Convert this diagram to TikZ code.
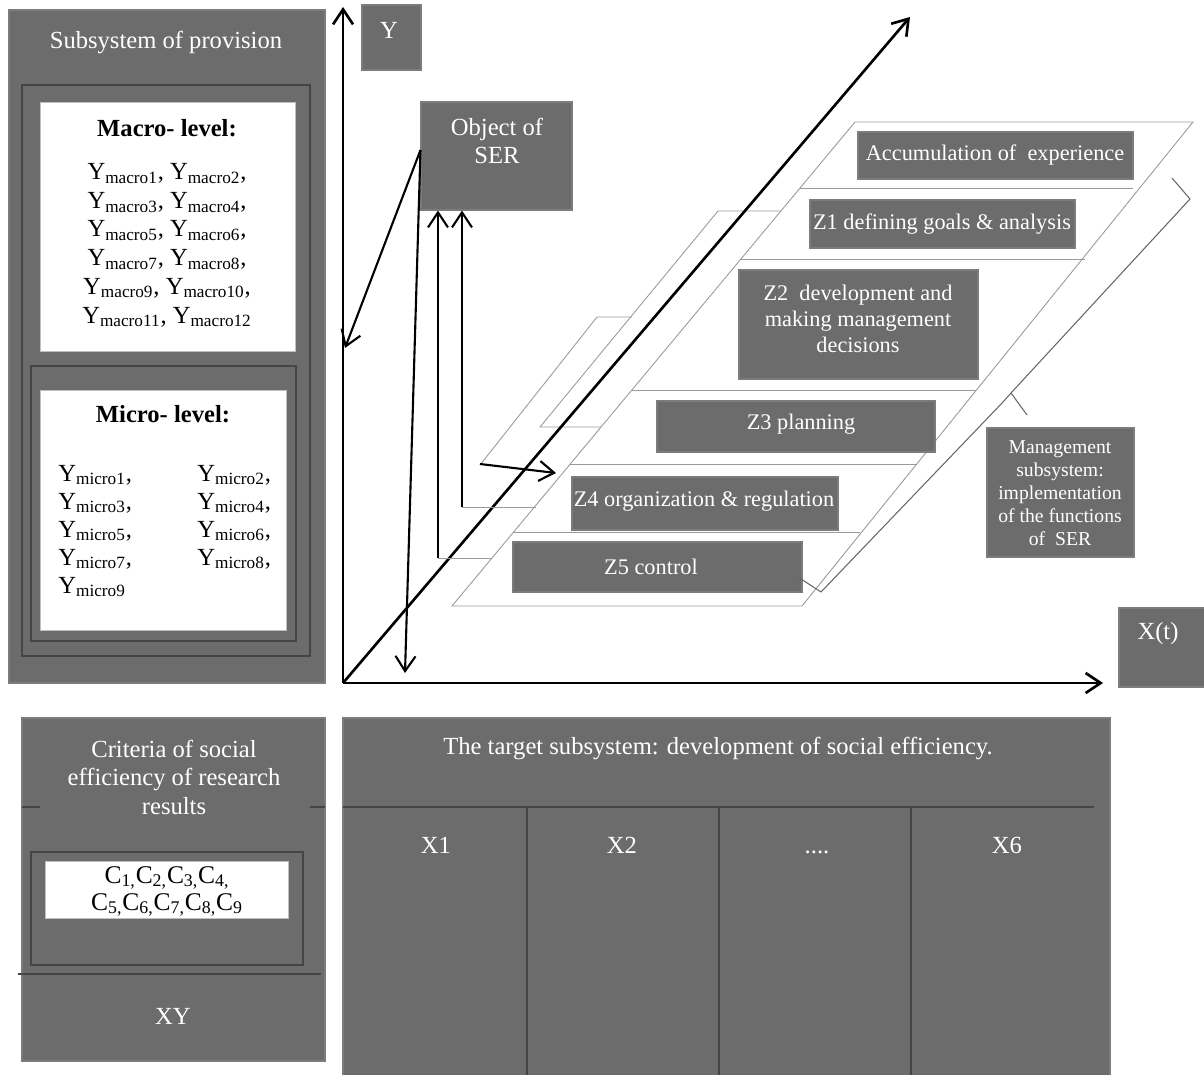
\documentclass[tikz,border=0pt]{standalone}
\usepackage{fontspec}
\setmainfont{Liberation Serif}
\usetikzlibrary{arrows.meta}
\definecolor{boxgray}{HTML}{6C6C6C}
\definecolor{rimgray}{HTML}{7C7C7C}
\definecolor{framegray}{HTML}{454545}
\definecolor{planegray}{HTML}{9A9A9A}
\definecolor{bracegray}{HTML}{666666}

\tikzset{
  greybox/.style={fill=boxgray, draw=rimgray, line width=0.6pt},
  whitebox/.style={fill=white, draw=black!25, line width=0.4pt},
  frame/.style={draw=framegray, line width=0.6pt},
  pline/.style={draw=planegray, line width=0.5pt},
  brace/.style={draw=bracegray, line width=0.6pt, line join=round},
  axis/.style={draw=black, line width=1.5pt, -{Straight Barb[length=3mm,width=4mm]}},
  arr/.style={draw=black, line width=1.2pt, -{Straight Barb[length=3mm,width=4mm]}},
  hdr/.style={text=white, inner sep=0pt, align=center, font=\fontsize{14}{16.2}\selectfont},
  ztxt/.style={hdr, font=\fontsize{12.7}{14.8}\selectfont},
  mtxt/.style={hdr, font=\fontsize{11.2}{13}\selectfont},
  lvl/.style={inner sep=0pt, font=\bfseries\fontsize{14}{16}\selectfont},
  ylist/.style={inner sep=0pt, font=\fontsize{14}{16}\selectfont},
  clist/.style={inner sep=0pt, font=\fontsize{14.5}{16}\selectfont},
}

\newcommand{\Yma}[1]{Y\textsubscript{macro#1}}
\newcommand{\Ymi}[1]{Y\textsubscript{micro#1}}
\newcommand{\Cc}[1]{C\textsubscript{#1}}
\newcommand{\fourdots}{....}

\begin{document}
\begin{tikzpicture}[x=0.02cm, y=-0.02cm]
\useasboundingbox (0,0) rectangle (1204,1075);

% subsystem of provision
\draw[greybox] (9,10) rectangle (325,683);
\node[hdr] (prov) at (166,42) {Subsystem of provision};
\draw[frame] (22,85) rectangle (310,656);
\draw[whitebox] (40,102) rectangle (295,351);
\node[lvl] (macro) at (167,128) {Macro- level:};
\foreach[count=\i] \a/\b in {1/2,3/4,5/6,7/8,9/10}
  \node[ylist] (mac\i) at (167,145+28.6*\i) {\Yma{\a}, \Yma{\b},};
\node[ylist] (mac6) at (167,317) {\Yma{11}, \Yma{12}};
\draw[frame] (31,366) rectangle (296,641);
\draw[whitebox] (40,390) rectangle (286,630);
\node[lvl] (micro) at (163,414) {Micro- level:};
\foreach[count=\i] \m in {1,3,5,7,9}
  \node[ylist, anchor=west] (mil\i) at (58,447+28*\i) {\Ymi{\m}\ifnum\m<9 ,\fi};
\foreach[count=\i] \m in {2,4,6,8}
  \node[ylist, anchor=west] (mir\i) at (197,447+28*\i) {\Ymi{\m},};

% criteria
\draw[greybox] (22,718) rectangle (325,1061);
\node[hdr] (crit) at (174,777) {Criteria of social\\efficiency of research\\results};
\draw[frame] (22,807) -- (40,807) (310,807) -- (325,807);
\draw[frame] (31,852) rectangle (303,965);
\draw[whitebox] (45,861) rectangle (288,918);
\node[clist] (c1) at (167,878) {\Cc{1,}\Cc{2,}\Cc{3,}\Cc{4,}};
\node[clist] (c2) at (167,905) {\Cc{5,}\Cc{6,}\Cc{7,}\Cc{8,}\Cc{9}};
\draw[frame] (18,974) -- (321,974);
\node[hdr] (xy) at (173,1016) {XY};

% target subsystem
\draw[greybox] (343,718) rectangle (1110,1077);
\node[hdr] (target) at (718,748) {The target subsystem: development of social efficiency.};
\draw[frame] (343,807) -- (1094,807);
\foreach \xx in {527,719,911} \draw[frame] (\xx,807) -- (\xx,1077);
\foreach[count=\i] \lbl/\xx in {X1/436,X2/622,\fourdots/817,X6/1007}
  \node[hdr, anchor=base] (x\i) at (\xx,853) {\lbl};

% planes
\draw[pline] (632,317) -- (597,317) -- (480,465);
\draw[pline] (781,211) -- (718,211) -- (540,427) -- (608,427);
\draw[pline, fill=white] (452,606) -- (802,606) -- (1193,122) -- (855,122) -- cycle;
\foreach \yy/\xl/\xr in {188/800/1133,259/741/1085,390/632/976,464/570/917,532/514/860}
  \draw[pline] (\xl,\yy) -- (\xr,\yy);

\draw[greybox] (858,132) rectangle (1133,179);
\node[ztxt] (accum) at (995,155) {Accumulation of\ \ experience};
\draw[greybox] (810,200) rectangle (1075,248);
\node[ztxt] (zone1) at (942,224) {Z1 defining goals \& analysis};
\draw[greybox] (739,270) rectangle (978,379);
\node[ztxt] (zone2) at (858,319) {Z2\ \ development and\\making management\\decisions};
\draw[greybox] (657,401) rectangle (935,452);
\node[ztxt] (zone3) at (801,424) {Z3 planning};
\draw[greybox] (572,477) rectangle (838,530);
\node[ztxt] (zone4) at (704,501) {Z4 organization \& regulation};
\draw[greybox] (513,542) rectangle (802,592);
\node[ztxt] (zone5) at (651,567) {Z5 control};

\draw[brace] (1172,178) -- (1190,199) -- (1011,393) -- (1027,415);
\draw[brace] (1011,393) -- (1003,402) -- (821,592) -- (798,577);

\draw[greybox] (987,428) rectangle (1134,557);
\node[mtxt] (mgmt) at (1060,493) {Management\\subsystem:\\implementation\\of the functions\\of\ \ SER};

% labels of axes
\draw[greybox] (362,5) rectangle (421,70);
\node[hdr] (ylab) at (389,30) {Y};
\draw[greybox] (1119,608) rectangle (1210,687);
\node[hdr] (xlab) at (1158,634) {X(t)};
\node[greybox, minimum width=3.02cm, minimum height=2.16cm, inner sep=0pt] (obj) at (496.5,156) {};
\node[hdr] (objtxt) at (497,141) {Object of\\SER};

% axes
\coordinate (orig) at (343,683);
\coordinate (ytip) at (343,7);
\coordinate (xtip) at (1103,683);
\coordinate (ztip) at (910,17);
\draw[axis] (orig) -- (ytip);
\draw[axis] (orig) -- (xtip);
\draw[axis] (orig) -- (ztip);

% links
\coordinate (yhit) at (345,348);
\coordinate (xhit) at (405,673);
\draw[arr] ([yshift=0.12cm]obj.west) -- (yhit);
\draw[arr] ([yshift=0.12cm]obj.west) -- (xhit);
\coordinate (z4foot) at (462,507);
\coordinate (z5foot) at (438,558);
\draw[pline] (z4foot) -- (536,507);
\draw[pline] (z5foot) -- (492,558);
\draw[arr] (z4foot) -- (z4foot |- obj.south);
\draw[arr] (z5foot) -- (z5foot |- obj.south);
\coordinate (ctail) at (480,464);
\coordinate (chead) at (556,473);
\draw[arr] (ctail) -- (chead);
\end{tikzpicture}
\end{document}
